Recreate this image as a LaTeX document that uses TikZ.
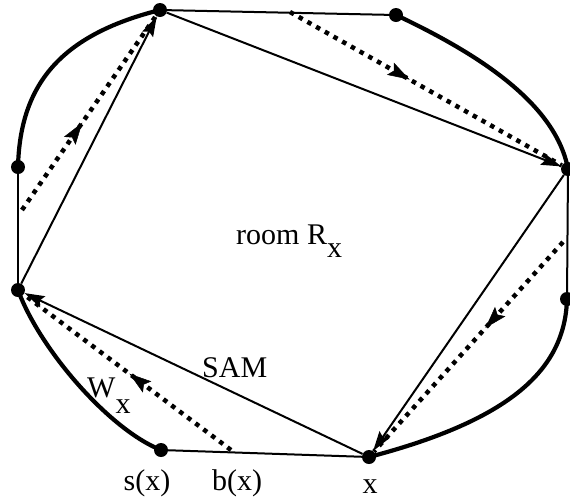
\documentclass[tikz,border=0pt]{standalone}
\usepackage{fontspec}
\setmainfont{Liberation Serif}
\usetikzlibrary{arrows.meta,decorations.markings}
\begin{document}
\begin{tikzpicture}[x=1pt,y=-1pt,
  dot/.style={circle,fill=black,inner sep=0pt,minimum size=14pt},
  wall/.style={line width=4.2pt},
  edgeline/.style={line width=2pt},
  arr/.style={edgeline,-{Stealth[length=20pt,width=12pt,inset=3pt]}},
  walk/.style={line width=4.5pt,dash pattern=on 4.5pt off 5.5pt,
    postaction={decorate},
    decoration={markings,mark=at position #1 with {\arrow[line width=0.5pt]{Stealth[length=22pt,width=14pt,inset=4pt]}}}},
  lbl/.style={font=\fontsize{30}{34}\selectfont,inner sep=0pt}]
\useasboundingbox (0,0) rectangle (570,499);
% vertices
\node[dot] (T) at (160,10) {};
\node[dot] (A) at (396,15) {};
\node[dot] (R) at (568,169) {};
\node[dot] (B) at (567,299) {};
\node[dot] (X) at (369,457) {};
\node[dot] (S) at (161,450) {};
\node[dot] (L) at (18,290) {};
\node[dot] (C) at (18,167) {};
% free ends of walks
\coordinate (w1) at (22,210);
\coordinate (w2) at (290,12);
\coordinate (w3) at (563,242);
\coordinate (w4) at (231,450);
% outer boundary
\draw[edgeline] (T.center) -- (A.center);
\draw[wall] (A.center) .. controls (470,50) and (555,100) .. (R.center);
\draw[edgeline] (R.center) -- (B.center);
\draw[wall] (B.center) .. controls (565,370) and (510,420) .. (X.center);
\draw[edgeline] (X.center) -- (S.center);
\draw[wall] (S.center) .. controls (110,430) and (40,350) .. (L.center);
\draw[edgeline] (L.center) -- (C.center);
\draw[wall] (C.center) .. controls (20,85) and (60,35) .. (T.center);
% SAM room
\draw[arr] (L) -- (T);
\draw[arr] (T) -- (R);
\draw[arr] (R) -- (X);
\draw[arr] (X) -- (L);
% walks
\draw[walk=0.45] (w1) -- (T);
\draw[walk=0.44] (w2) -- (R);
\draw[walk=0.41] (w3) -- (X);
\draw[walk=0.49] (w4) -- (L);
% labels
\node[lbl,anchor=base west] (room) at (236,244) {room R\raisebox{-13pt}{x}};
\node[lbl,anchor=base west] (sam) at (202,377) {SAM};
\node[lbl,anchor=base west] (wx) at (87,397) {W\raisebox{-16pt}{x}};
\node[lbl,anchor=base] (sx) at (147,490) {s(x)};
\node[lbl,anchor=base] (bx) at (237,490) {b(x)};
\node[lbl,anchor=base] (xl) at (370,493) {x};
\end{tikzpicture}
\end{document}
